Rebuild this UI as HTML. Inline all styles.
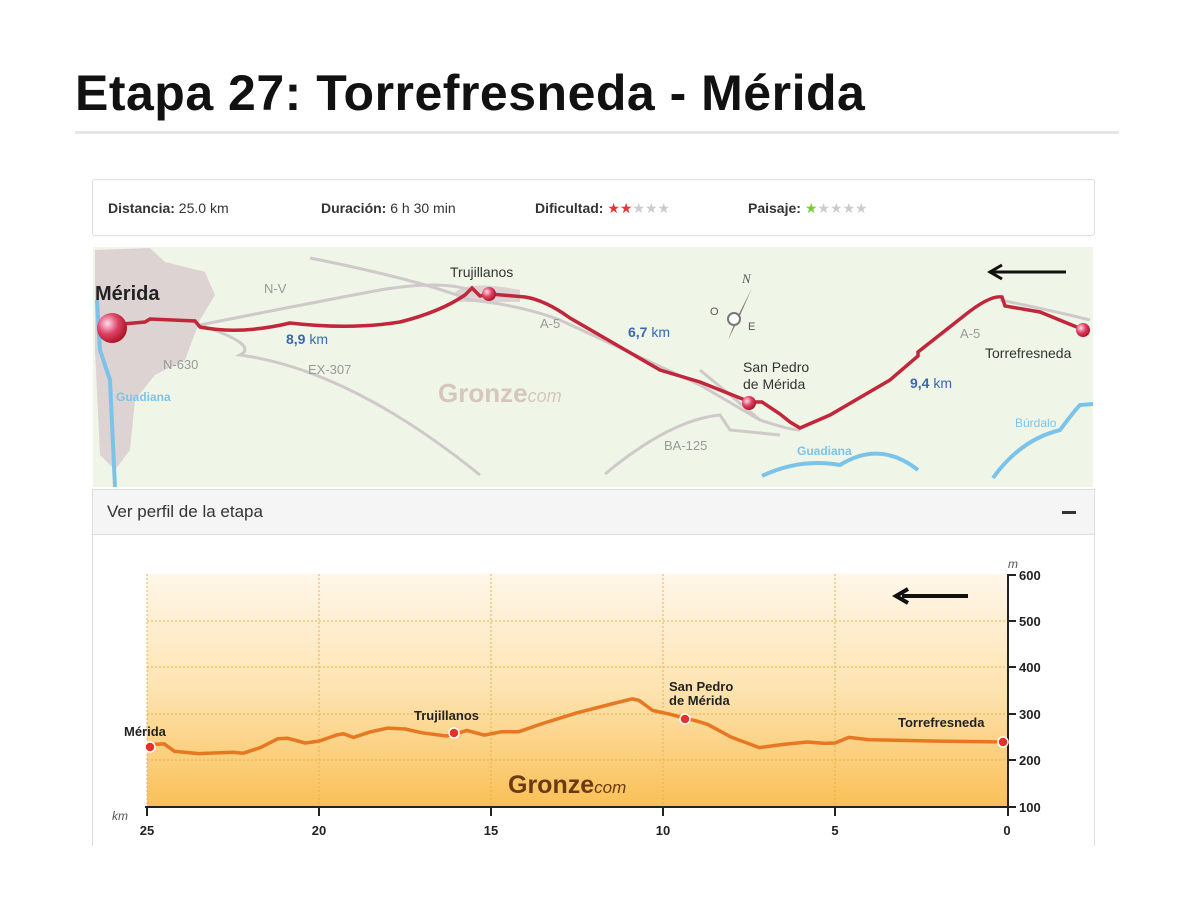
<!DOCTYPE html>
<html><head><meta charset="utf-8"><style>
body{margin:0;width:1193px;height:920px;background:#fff;font-family:"Liberation Sans",sans-serif;position:relative;overflow:hidden}
.t{position:absolute;left:75px;top:64px;font-size:50px;letter-spacing:0.5px;font-weight:bold;color:#111}
.hr{position:absolute;left:75px;top:131px;width:1044px;height:3px;background:#e6e6e6}
.info{position:absolute;left:92px;top:179px;width:1001px;height:55px;border:1px solid #ddd;border-radius:3px;font-size:14px;color:#333}
.info span{position:absolute;top:20px}
.info b{color:#333}
.ph{position:absolute;left:92px;top:489px;width:1001px;height:44px;background:#f5f5f5;border:1px solid #ddd;font-size:17px;color:#333}
.pb{position:absolute;left:92px;top:534px;width:1001px;height:312px;border-left:1px solid #ddd;border-right:1px solid #ddd}
</style></head><body>
<div class="t">Etapa 27: Torrefresneda - Mérida</div>
<div class="hr"></div>
<div class="info">
<span style="left:15px"><b>Distancia:</b> 25.0 km</span>
<span style="left:228px"><b>Duración:</b> 6 h 30 min</span>
<span style="left:442px"><b>Dificultad:</b> <span style="position:static;color:#e33">★★</span><span style="position:static;color:#ccc">★★★</span></span>
<span style="left:655px"><b>Paisaje:</b> <span style="position:static;color:#7c3">★</span><span style="position:static;color:#ccc">★★★★</span></span>
</div>
<svg style="position:absolute;left:0;top:0" width="1193" height="920">
<defs><radialGradient id="b" cx="0.35" cy="0.35" r="0.7"><stop offset="0" stop-color="#fde"/><stop offset="0.5" stop-color="#d46"/><stop offset="1" stop-color="#a12"/></radialGradient>
<linearGradient id="og" x1="0" y1="0" x2="0" y2="1"><stop offset="0" stop-color="#fff7ea"/><stop offset="0.5" stop-color="#fde3b0"/><stop offset="1" stop-color="#f9c056"/></linearGradient></defs>
<rect x="93" y="247" width="1000" height="240" fill="#eff6e8"/>
<path d="M95,250 L150,248 L165,262 L205,272 L215,295 L200,320 L185,360 L155,375 L135,400 L130,450 L115,470 L100,455 L95,350Z" fill="#ddd3d3"/>
<path d="M455,292 Q470,280 520,290 L520,302 L460,302Z" fill="#ddd3d3"/>
<g fill="none" stroke="#cfc9c9" stroke-width="3">
<path d="M310,258 Q420,280 470,300 Q520,305 560,320 L700,385 L760,420 Q790,430 800,430"/>
<path d="M200,325 Q300,305 380,290 Q440,280 470,290"/>
<path d="M200,325 Q260,345 240,355 Q350,370 480,475"/>
<path d="M605,474 Q670,420 720,415 L730,430 L780,435"/>
<path d="M1000,300 Q1050,310 1090,320"/>
<path d="M700,370 L760,420"/>
</g>
<g fill="none" stroke="#7cc3ea" stroke-width="4">
<path d="M97,300 L100,350 L110,380 L115,487"/>
<path d="M762,476 Q800,458 840,465 Q880,440 918,470"/>
<path d="M993,478 Q1020,440 1060,430 Q1075,410 1080,405 L1093,404"/>
</g>
<path d="M112,325 L145,322 L150,319 L195,321 L200,327 Q240,335 290,323 Q350,330 400,322 Q440,312 465,295 L472,288 L480,296 L490,294 L525,297 Q545,300 570,318 L660,370 L700,382 L750,402 L762,402 L780,414 L790,422 L800,428 L830,415 L890,380 L918,356 L918,352 L965,315 Q990,295 1002,297 L1005,306 L1040,312 L1084,330" fill="none" stroke="#c1263a" stroke-width="3.5"/>
<circle cx="112" cy="328" r="15" fill="url(#b)"/>
<circle cx="489" cy="294" r="7" fill="url(#b)"/>
<circle cx="749" cy="403" r="7" fill="url(#b)"/>
<circle cx="1083" cy="330" r="7" fill="url(#b)"/>
<path d="M1066,272 L992,272 M1002,265 L990,272 L1002,279" stroke="#111" stroke-width="3" fill="none"/>
<path d="M752,288 L738,320 L728,340 L735,322Z" fill="#777"/>
<circle cx="734" cy="319" r="6" fill="#fff" stroke="#777" stroke-width="2"/>
<g font-family="Liberation Sans,sans-serif" font-size="13" fill="#999">
<text x="264" y="293">N-V</text><text x="163" y="369">N-630</text><text x="308" y="374">EX-307</text><text x="540" y="328">A-5</text><text x="960" y="338">A-5</text><text x="664" y="450">BA-125</text>
<text x="742" y="283" font-style="italic" font-family="Liberation Serif,serif" fill="#555">N</text>
<text x="710" y="315" font-size="11" fill="#555">O</text><text x="748" y="330" font-size="11" fill="#555">E</text>
</g>
<g font-family="Liberation Sans,sans-serif" font-size="14" fill="#333">
<text x="450" y="277">Trujillanos</text><text x="743" y="372">San Pedro</text><text x="743" y="389">de Mérida</text><text x="985" y="358">Torrefresneda</text>
<text x="95" y="300" font-size="20" font-weight="bold" fill="#222">Mérida</text>
</g>
<g font-family="Liberation Sans,sans-serif" font-size="14" fill="#3a67b0">
<text x="286" y="344"><tspan font-weight="bold">8,9</tspan> km</text><text x="628" y="337"><tspan font-weight="bold">6,7</tspan> km</text><text x="910" y="388"><tspan font-weight="bold">9,4</tspan> km</text></g>
<g font-family="Liberation Sans,sans-serif" font-size="12" font-weight="bold" fill="#7cc3ea"><text x="116" y="401">Guadiana</text><text x="797" y="455">Guadiana</text><text x="1015" y="427" font-weight="normal">Búrdalo</text></g>
<text x="438" y="402" font-family="Liberation Sans,sans-serif" font-size="26" font-weight="bold" fill="#d7c6bb">Gronze<tspan font-size="18" font-style="italic" font-weight="normal">com</tspan></text>
</svg>
<div class="ph"><span style="position:absolute;left:14px;top:12px">Ver perfil de la etapa</span><span style="position:absolute;right:18px;top:21px;width:14px;height:3px;background:#333"></span></div>
<div class="pb"></div>
<svg style="position:absolute;left:0;top:0" width="1193" height="920" id="p">
<rect x="147" y="574" width="860" height="233" fill="url(#og)"/>
<g stroke="#f0b040" stroke-width="1" stroke-dasharray="2,2">
<line x1="147" y1="621" x2="1007" y2="621"/><line x1="147" y1="667" x2="1007" y2="667"/><line x1="147" y1="714" x2="1007" y2="714"/><line x1="147" y1="760" x2="1007" y2="760"/>
<line x1="147" y1="574" x2="147" y2="807"/><line x1="319" y1="574" x2="319" y2="807"/><line x1="491" y1="574" x2="491" y2="807"/><line x1="663" y1="574" x2="663" y2="807"/><line x1="835" y1="574" x2="835" y2="807"/>
</g>
<g stroke="#222" stroke-width="2"><line x1="145" y1="807" x2="1009" y2="807"/><line x1="1008" y1="574" x2="1008" y2="816"/>
<line x1="147" y1="807" x2="147" y2="816"/><line x1="319" y1="807" x2="319" y2="816"/><line x1="491" y1="807" x2="491" y2="816"/><line x1="663" y1="807" x2="663" y2="816"/><line x1="835" y1="807" x2="835" y2="816"/>
<line x1="1008" y1="575" x2="1016" y2="575"/><line x1="1008" y1="621" x2="1016" y2="621"/><line x1="1008" y1="667" x2="1016" y2="667"/><line x1="1008" y1="714" x2="1016" y2="714"/><line x1="1008" y1="760" x2="1016" y2="760"/><line x1="1008" y1="807" x2="1016" y2="807"/></g>
<g font-family="Liberation Sans,sans-serif" font-size="13" font-weight="bold" fill="#222">
<text x="1019" y="580">600</text><text x="1019" y="626">500</text><text x="1019" y="672">400</text><text x="1019" y="719">300</text><text x="1019" y="765">200</text><text x="1019" y="812">100</text>
<text x="147" y="835" text-anchor="middle">25</text><text x="319" y="835" text-anchor="middle">20</text><text x="491" y="835" text-anchor="middle">15</text><text x="663" y="835" text-anchor="middle">10</text><text x="835" y="835" text-anchor="middle">5</text><text x="1007" y="835" text-anchor="middle">0</text>
<text x="124" y="736">Mérida</text><text x="414" y="720">Trujillanos</text><text x="669" y="691">San Pedro</text><text x="669" y="705">de Mérida</text><text x="898" y="727">Torrefresneda</text>
</g>
<text x="112" y="820" font-family="Liberation Sans,sans-serif" font-size="12" font-style="italic" fill="#555">km</text>
<text x="1008" y="568" font-family="Liberation Sans,sans-serif" font-size="12" font-style="italic" fill="#555">m</text>
<path d="M968,596 L902,596 M908,589 L896,596 L908,603" stroke="#111" stroke-width="4" fill="none"/>
<text x="508" y="793" font-family="Liberation Sans,sans-serif" font-size="25" font-weight="bold" fill="#6b3a10">Gronze<tspan font-size="17" font-style="italic" font-weight="normal">com</tspan></text>
<path id="el" fill="none" stroke="#e87722" stroke-width="3.5" stroke-linejoin="round"/>
<g fill="#e8302a" stroke="#fff" stroke-width="1.5"><circle cx="150" cy="747" r="5"/><circle cx="454" cy="733" r="5"/><circle cx="685" cy="719" r="5"/><circle cx="1003" cy="742" r="5"/></g>
</svg>
<script>
var d=[[25,228],[24.8,235],[24.5,236],[24.2,220],[23.5,215],[22.5,218],[22.2,216],[21.7,228],[21.2,247],[20.9,248],[20.4,238],[20,242],[19.5,255],[19.3,258],[19,250],[18.5,262],[18,270],[17.5,268],[17,260],[16.3,253],[16,258],[15.7,265],[15.2,255],[14.7,262],[14.2,262],[13.5,280],[12.5,303],[11.5,322],[10.9,333],[10.7,330],[10.3,308],[9.8,300],[9.3,290],[9,285],[8.7,278],[8,250],[7.2,228],[6.5,235],[5.8,240],[5.3,237],[5,238],[4.6,250],[4,245],[2,242],[0,240]];
document.getElementById('el').setAttribute('d','M'+d.map(function(p){return (1007-p[0]*34.4).toFixed(1)+','+(575+(600-p[1])*0.464).toFixed(1)}).join(' L'));
</script>
</body></html>
